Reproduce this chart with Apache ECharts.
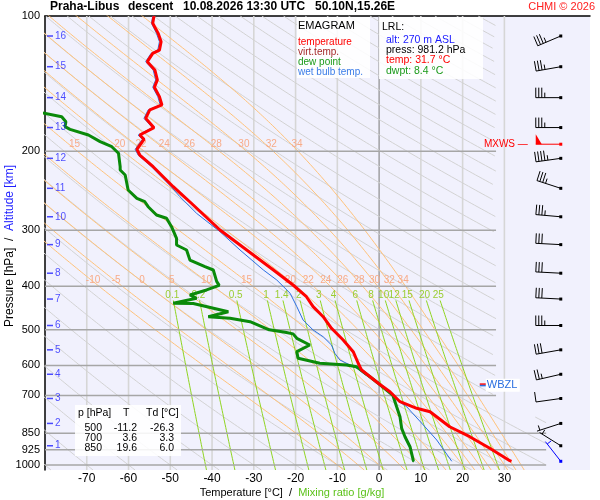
<!DOCTYPE html>
<html>
<head>
<meta charset="utf-8">
<script src="https://cdn.jsdelivr.net/npm/echarts@6/dist/echarts.min.js"></script>
<style>
  html, body { margin: 0; padding: 0; background: #fff; }
  #chart { width: 600px; height: 500px; }
</style>
</head>
<body>
<div id="chart"></div>
<script>
var FONT = '"Liberation Sans", Arial, sans-serif';

// sounding profile, [T degC, p hPa]
var temperature = [
  [-53.9,100],[-54.2,103.8],[-52.9,109.3],[-52.2,114.1],[-52.6,119.1],[-54.2,121.1],[-55.5,126.4],
  [-53.7,131.9],[-53.1,138.8],[-53.8,144.1],[-52.6,151.2],[-52.0,157.8],[-54.9,161.9],[-55.9,169.0],
  [-53.9,177.3],[-57.3,184.1],[-56.3,188.2],[-58.0,198.1],[-57.3,204.0],[-54.1,216.6],[-49.3,240.0],
  [-44.5,263.6],[-38.1,299.7],[-31.7,332.0],[-25.3,367.9],[-20.6,397.3],[-17.4,421.9],[-15.8,444.0],
  [-13.4,467.4],[-11.4,496.1],[-8.6,526.7],[-6.2,559.3],[-5.0,593.5],[-4.6,604.0],[-4.2,614.3],
  [-0.2,657.7],[2.6,686.7],[5.0,722.8],[9.0,747.7],[12.2,760.9],[16.9,821.8],[21.7,865.0],
  [26.5,918.0],[31.3,978.1],[31.7,981.2]
];
var dewPoint = [
  [-80.5,164.5],[-76.0,167.6],[-75.0,172.0],[-75.2,176.4],[-74.0,178.8],[-69.6,184.1],[-66.8,190.5],
  [-64.0,195.5],[-62.4,202.2],[-62.0,216.6],[-62.0,220.3],[-60.8,226.0],[-60.1,244.1],[-58.0,254.7],
  [-56.1,259.2],[-55.3,265.9],[-53.3,277.5],[-50.9,282.2],[-49.7,294.6],[-48.5,312.7],[-48.5,323.6],
  [-46.1,332.0],[-45.3,349.5],[-41.7,361.7],[-39.7,367.9],[-38.9,390.0],[-38.3,398.0],[-41.3,407.5],
  [-45.3,418.2],[-43.7,425.3],[-49.3,436.4],[-44.5,436.8],[-36.1,455.6],[-40.9,467.4],[-35.7,471.3],
  [-30.9,479.6],[-26.3,500.0],[-22.5,506.0],[-20.6,510.5],[-19.7,522.2],[-16.6,540.4],[-19.7,559.3],
  [-19.4,578.5],[-14.2,593.5],[-7.8,598.7],[-5.4,604.0],[-2.2,636.0],[-0.2,657.7],[3.3,700.0],
  [4.2,741.7],[5.0,780.5],[5.4,828.6],[6.2,865.0],[7.4,910.5],[8.2,978.1],[8.4,981.2]
];
var wetBulb = [
  [-54.2,100],[-54.5,103.8],[-53.3,109.3],[-52.6,114.1],[-53.0,119.1],[-54.6,121.1],[-55.9,126.4],
  [-54.1,131.9],[-53.5,138.8],[-54.2,144.1],[-53.0,151.2],[-52.4,157.8],[-55.3,161.9],[-56.3,169.0],
  [-54.3,177.3],[-57.7,184.1],[-56.7,188.2],[-58.4,198.1],[-57.7,204.0],[-54.5,216.6],[-49.8,240.0],
  [-47.7,252.6],[-43.7,275.1],[-38.1,302.3],[-33.3,332.0],[-27.7,367.9],[-24.5,387.3],[-21.3,414.6],
  [-19.7,444.0],[-18.2,475.5],[-15.8,500.4],[-13.4,518.0],[-11.4,540.4],[-10.6,564.0],[-9.4,583.5],
  [-7.0,598.7],[-5.0,611.2],[-3.8,625.0],[-0.2,657.7],[2.6,692.3],[4.2,716.6],[6.6,741.7],
  [10.6,814.7],[13.8,879.8],[17.4,981.2]
];

// altitude marks (km) and their pressure; winds are given at the same levels
var altKm = [16,15,14,13,12,11,10,9,8,7,6,5,4,3,2,1];
var altP = [110.8,129.7,152,177.2,207.5,242,280,323,374,427,489,554,628,711,808,906];
var windDir = [247,260,270,270,262,288,275,273,273,273,270,260,257,262,252,302];
var windKt = [35,35,35,35,45,35,35,30,30,30,35,30,25,10,5,5];
var mxwsP = 193, mxwsDir = 270, mxwsKt = 50;
var sfcP = 981.2, sfcDir = 322, sfcKt = 5;
var wbzlP = 663;

// axes and isopleth labels
var pressTicks = [100,200,300,400,500,600,700,850,925,1000];
var tempTicks = [-70,-60,-50,-40,-30,-20,-10,0,10,20,30];
var thetaW = [-10,-5,0,5,10,15,20,22,24,26,28,30,32,34];
var thetaWUpper = [15,20,22,24,26,28,30,32,34];
var mixRatio = [0.1,0.2,0.5,1,1.4,2,3,4,6,8,10,12,15,20,25];

// standard level table
var tableP = [500,700,850];
var tableT = [-11.2,3.6,19.6];
var tableTd = [-26.3,3.3,6.0];

// lowest recorded level
var lrlAlt = 270, lrlPress = 981.2, lrlTemp = 31.7, lrlDwpt = 8.4;

var LP = function (p) { return Math.log10(p); };
var P_LOW = 1026;
var X_MIN = -80, X_MAX = 50.5;
var windX = 43.5, wbzlX = 24.1;

// ---- emagram background lines (fixed thermodynamic reference grid) ----
function tMax(p) { return p > 780 ? 40 : 28; }
function logSteps(pTop, pBot, n) {
  var out = [];
  for (var i = 0; i <= n; i++) out.push(Math.pow(10, LP(pTop) + (LP(pBot) - LP(pTop)) * i / n));
  return out;
}
function segments(pts) {
  var out = [], cur = [];
  pts.forEach(function (d) {
    if (d[0] <= tMax(Math.pow(10, d[1]))) cur.push(d);
    else if (cur.length) { out.push(cur); cur = []; }
  });
  if (cur.length) out.push(cur);
  return out.filter(function (s) { return s.length > 1; });
}
function esat(tc) { return 6.112 * Math.exp(17.67 * tc / (tc + 243.5)); }
function moistRate(tk, p) {
  var es = esat(tk - 273.15), rs = 0.622 * es / (p - es);
  return (287.04 * tk + 2.501e6 * rs) / (1005.7 + 2.501e6 * 2.501e6 * rs * 0.622 / (287.04 * tk * tk));
}
function pseudoAdiabat(twc) {
  var T = twc + 273.15, lnp = Math.log(1000), h = -0.01;
  var pts = [[T + moistRate(T, 1000) * Math.log(P_LOW / 1000) - 273.15, LP(P_LOW)], [twc, 3]];
  while (lnp > Math.log(100)) {
    var k1 = moistRate(T, Math.exp(lnp));
    var k2 = moistRate(T + k1 * h / 2, Math.exp(lnp + h / 2));
    T += k2 * h; lnp += h;
    pts.push([T - 273.15, lnp / Math.LN10]);
  }
  return pts;
}
function mixTd(w, p) {
  var a = Math.log(w * p / (622 + w) / 6.112);
  return 243.5 * a / (17.67 - a);
}
function tAt(pts, p) {
  var y = LP(p);
  for (var i = 1; i < pts.length; i++) {
    var a = pts[i - 1], b = pts[i];
    if ((a[1] - y) * (b[1] - y) <= 0 && a[1] !== b[1]) return a[0] + (b[0] - a[0]) * (y - a[1]) / (b[1] - a[1]);
  }
  return null;
}

var series = [];
function addLine(pts, color, width, z) {
  series.push({
    type: 'line', data: pts, symbol: 'none', silent: true, animation: false,
    lineStyle: { color: color, width: width }, z: z
  });
}

tempTicks.forEach(function (t) {
  addLine([[t, 2], [t, LP(P_LOW)]], t === 0 ? '#8c8c8c' : '#d6d6d6', t === 0 ? 1.2 : 1.6, 1);
});

var steps = logSteps(100, P_LOW, 240);
for (var th = -80; th <= 320; th += 10) {
  var dry = steps.map(function (p) { return [(th + 273.15) * Math.pow(p / 1000, 0.2857) - 273.15, LP(p)]; });
  segments(dry).forEach(function (s) { addLine(s, '#d2d2d2', 1, 1); });
}

// label data: [T, log p, text, pixel shift]
var moistLabels = [];
thetaW.forEach(function (tw) {
  var pts = pseudoAdiabat(tw);
  segments(pts).forEach(function (s) { addLine(s, '#ffc27a', 1, 1); });
  moistLabels.push([tAt(pts, 387), LP(387), tw, 2]);
  if (thetaWUpper.indexOf(tw) >= 0) moistLabels.push([tAt(pts, 192.8), LP(192.8), tw, 6]);
});

var mixLabels = [];
var mixSteps = logSteps(430, P_LOW, 60);
mixRatio.forEach(function (w) {
  addLine(mixSteps.map(function (p) { return [mixTd(w, p), LP(p)]; }), '#8fd420', 1, 1);
  mixLabels.push([mixTd(w, 418), LP(418), w, 0]);
});

pressTicks.slice(1).forEach(function (p) {
  addLine([[X_MIN, LP(p)], [p >= 850 ? 40 : 28, LP(p)]], '#a6a6a6', 1.5, 1);
});

// ---- sounding ----
function prof(arr) { return arr.map(function (d) { return [d[0], LP(d[1])]; }); }
series.push({ name: 'wet bulb temp.', type: 'line', data: prof(wetBulb), symbol: 'none', animation: false,
  lineStyle: { color: '#2a6fe0', width: 1 }, z: 3 });
series.push({ name: 'dew point', type: 'line', data: prof(dewPoint), symbol: 'none', animation: false,
  lineStyle: { color: '#0a8a0a', width: 3 }, z: 3 });
series.push({ name: 'temperature', type: 'line', data: prof(temperature), symbol: 'none', animation: false,
  lineStyle: { color: '#ff0000', width: 3 }, z: 3 });

function textRenderer(color, size) {
  return function (params, api) {
    var c = api.coord([api.value(0), api.value(1)]);
    return { type: 'text', x: c[0] + api.value(3), y: c[1], style: { text: String(api.value(2)), fill: color,
      font: size + 'px ' + FONT, align: 'center', verticalAlign: 'middle' } };
  };
}
series.push({ type: 'custom', data: moistLabels, renderItem: textRenderer('#f8ab88', 10), silent: true, animation: false, z: 2 });
series.push({ type: 'custom', data: mixLabels, renderItem: textRenderer('#9acd32', 10), silent: true, animation: false, z: 2 });

// altitude scale
series.push({
  type: 'scatter', data: altP.map(function (p, i) { return [X_MIN, LP(p), altKm[i]]; }),
  symbol: 'rect', symbolSize: [6, 1.5], symbolOffset: [5, 0], clip: false, silent: true, animation: false,
  itemStyle: { color: '#1f1fff' },
  label: { show: true, position: 'right', distance: 2, formatter: function (d) { return d.value[2]; },
    color: '#1f1fff', fontSize: 10, fontFamily: FONT },
  z: 4
});

// wind barbs
function renderBarb(params, api) {
  var c = api.coord([api.value(0), api.value(1)]);
  var dir = api.value(2) * Math.PI / 180, spd = api.value(3), kind = api.value(4);
  var col = kind === 1 ? '#ff0000' : (kind === 2 ? '#0000ff' : '#000000');
  var vx = Math.sin(dir), vy = -Math.cos(dir), nx = -vy, ny = vx;
  var L = 25, ex = c[0] + vx * L, ey = c[1] + vy * L;
  var kids = [];
  function at(k) { return [ex - vx * k, ey - vy * k]; }
  function stroke(a, len) {
    kids.push({ type: 'line', shape: { x1: a[0], y1: a[1], x2: a[0] + nx * len, y2: a[1] + ny * len },
      style: { stroke: col, lineWidth: 1 } });
  }
  kids.push({ type: 'line', shape: { x1: c[0], y1: c[1], x2: ex, y2: ey }, style: { stroke: col, lineWidth: 1 } });
  kids.push({ type: 'rect', shape: { x: c[0] - 1.5, y: c[1] - 1.5, width: 3, height: 3 }, style: { fill: col } });
  var d = 0, rest = spd;
  while (rest >= 50) {
    var a = at(d), b = at(d + 6);
    kids.push({ type: 'polygon', shape: { points: [a, [a[0] + nx * 10, a[1] + ny * 10], b] }, style: { fill: col } });
    d += 7; rest -= 50;
  }
  while (rest >= 10) { stroke(at(d), 10); d += 3; rest -= 10; }
  if (rest >= 5) { if (d === 0) d = 3; stroke(at(d), 5); }
  if (kind === 1) {
    kids.push({ type: 'text', x: ex - 8, y: ey, style: { text: 'MXWS \u2014', fill: col,
      font: '10px ' + FONT, align: 'right', verticalAlign: 'middle' } });
  }
  return { type: 'group', children: kids };
}
var barbData = altP.map(function (p, i) { return [windX, LP(p), windDir[i], windKt[i], 0]; });
barbData.push([windX, LP(mxwsP), mxwsDir, mxwsKt, 1]);
barbData.push([windX, LP(sfcP), sfcDir, sfcKt, 2]);
series.push({ type: 'custom', data: barbData, renderItem: renderBarb, silent: true, animation: false, z: 5 });

// wet bulb zero level marker
series.push({
  type: 'custom', data: [[wbzlX, LP(wbzlP)]], silent: true, animation: false, z: 5,
  renderItem: function (params, api) {
    var c = api.coord([api.value(0), api.value(1)]);
    return { type: 'group', children: [
      { type: 'rect', shape: { x: c[0] + 6, y: c[1] - 6, width: 34, height: 13 }, style: { fill: '#ffffff' } },
      { type: 'rect', shape: { x: c[0], y: c[1] - 1.5, width: 6, height: 1.5 }, style: { fill: '#ff0000' } },
      { type: 'rect', shape: { x: c[0], y: c[1], width: 6, height: 1.5 }, style: { fill: '#2a6fe0' } },
      { type: 'text', x: c[0] + 7, y: c[1] + 0.5, style: { text: 'WBZL', fill: '#2a6fe0',
        font: '11px ' + FONT, verticalAlign: 'middle' } }
    ] };
  }
});

// ---- fixed text blocks ----
function txt(x, y, s, color, size, extra) {
  return { type: 'text', x: x, y: y, z: 101, silent: true,
    style: { text: s, fill: color, font: (extra || '') + size + 'px ' + FONT,
      verticalAlign: 'middle', textVerticalAlign: 'middle' } };
}
function txtR(x, y, s, color, size) {
  var o = txt(x, y, s, color, size);
  o.style.align = 'right'; o.style.textAlign = 'right';
  return o;
}
function box(x, y, w, h) {
  return { type: 'rect', z: 100, silent: true, shape: { x: x, y: y, width: w, height: h },
    style: { fill: 'rgba(255,255,255,0.88)' } };
}

var graphics = [
  txt(50, 7, 'Praha-Libus', '#000', 12, 'bold '),
  txt(128, 7, 'descent', '#000', 12, 'bold '),
  txt(183, 7, '10.08.2026 13:30 UTC', '#000', 12, 'bold '),
  txt(315, 7, '50.10N,15.26E', '#000', 12, 'bold '),
  txtR(595, 7, 'CHMI \u00a9 2026', '#ff2020', 11),

  box(297, 17, 73, 61),
  txt(298, 26, 'EMAGRAM', '#000', 11),
  txt(298, 42, 'temperature', '#ff0000', 10),
  txt(298, 52, 'virt.temp.', '#a52a2a', 10),
  txt(298, 62, 'dew point', '#1a9a1a', 10),
  txt(298, 72, 'wet bulb temp.', '#3a7ce8', 10),

  box(379, 17, 104, 62),
  txt(382, 27, 'LRL:', '#000', 10.5),
  txt(386, 40, 'alt: ' + lrlAlt + ' m ASL', '#1a1aff', 10.5),
  txt(386, 50, 'press: ' + lrlPress.toFixed(1) + ' hPa', '#000', 10.5),
  txt(386, 60, 'temp: ' + lrlTemp.toFixed(1) + ' \u00b0C', '#ff0000', 10.5),
  txt(386, 71, 'dwpt: ' + lrlDwpt.toFixed(1) + ' \u00b0C', '#1a9a1a', 10.5),

  box(75, 405, 106, 51),
  txt(78, 413, 'p [hPa]', '#000', 10.5),
  txt(123, 413, 'T', '#000', 10.5),
  txt(146, 413, 'Td [\u00b0C]', '#000', 10.5)
];
tableP.forEach(function (p, i) {
  var y = 428.5 + i * 10;
  graphics.push(txtR(102, y, String(p), '#000', 10.5));
  graphics.push(txtR(137, y, tableT[i].toFixed(1), '#000', 10.5));
  graphics.push(txtR(174, y, tableTd[i].toFixed(1), '#000', 10.5));
});
graphics.push({
  type: 'text', x: 292, y: 493, z: 101, silent: true,
  style: { text: '{k|Temperature [\u00b0C]  /  }{g|Mixing ratio [g/kg]}', align: 'center', textAlign: 'center',
    verticalAlign: 'middle', textVerticalAlign: 'middle',
    rich: { k: { fill: '#000', color: '#000', font: '11px ' + FONT, fontSize: 11, fontFamily: FONT },
            g: { fill: '#5cc21a', color: '#5cc21a', font: '11px ' + FONT, fontSize: 11, fontFamily: FONT } } }
});
graphics.push({
  type: 'text', x: 10, y: 246, rotation: Math.PI / 2, z: 101, silent: true,
  style: { text: '{k|Pressure [hPa]  /  }{b|Altitude [km]}', align: 'center', textAlign: 'center',
    verticalAlign: 'middle', textVerticalAlign: 'middle',
    rich: { k: { fill: '#000', color: '#000', font: '12px ' + FONT, fontSize: 12, fontFamily: FONT },
            b: { fill: '#1f1fff', color: '#1f1fff', font: '12px ' + FONT, fontSize: 12, fontFamily: FONT } } }
});

var chart = echarts.init(document.getElementById('chart'), null, { renderer: 'canvas' });
chart.setOption({
  animation: false,
  backgroundColor: '#ffffff',
  grid: { left: 45, right: 10, top: 16, bottom: 30, show: true, backgroundColor: '#f1f1fd', borderWidth: 0 },
  xAxis: [{
    type: 'value', min: X_MIN, max: X_MAX,
    axisLine: { show: false }, axisTick: { show: false }, splitLine: { show: false },
    axisLabel: { customValues: tempTicks, fontSize: 12, color: '#000', fontFamily: FONT, margin: 3 }
  }, {
    type: 'value', min: X_MIN, max: X_MAX, position: 'top',
    axisLine: { show: true, onZero: false, lineStyle: { color: '#000', width: 1.5 } },
    axisTick: { show: false }, axisLabel: { show: false }, splitLine: { show: false }
  }],
  yAxis: {
    type: 'value', min: 2, max: LP(P_LOW), inverse: true,
    axisLine: { show: true, onZero: false, lineStyle: { color: '#000', width: 1.5 } },
    axisTick: { show: false }, splitLine: { show: false },
    axisLabel: {
      customValues: pressTicks.map(LP), fontSize: 11, color: '#000', fontFamily: FONT, margin: 5,
      formatter: function (v) { return String(Math.round(Math.pow(10, v))); }
    }
  },
  graphic: graphics,
  series: series
});
</script>
</body>
</html>
